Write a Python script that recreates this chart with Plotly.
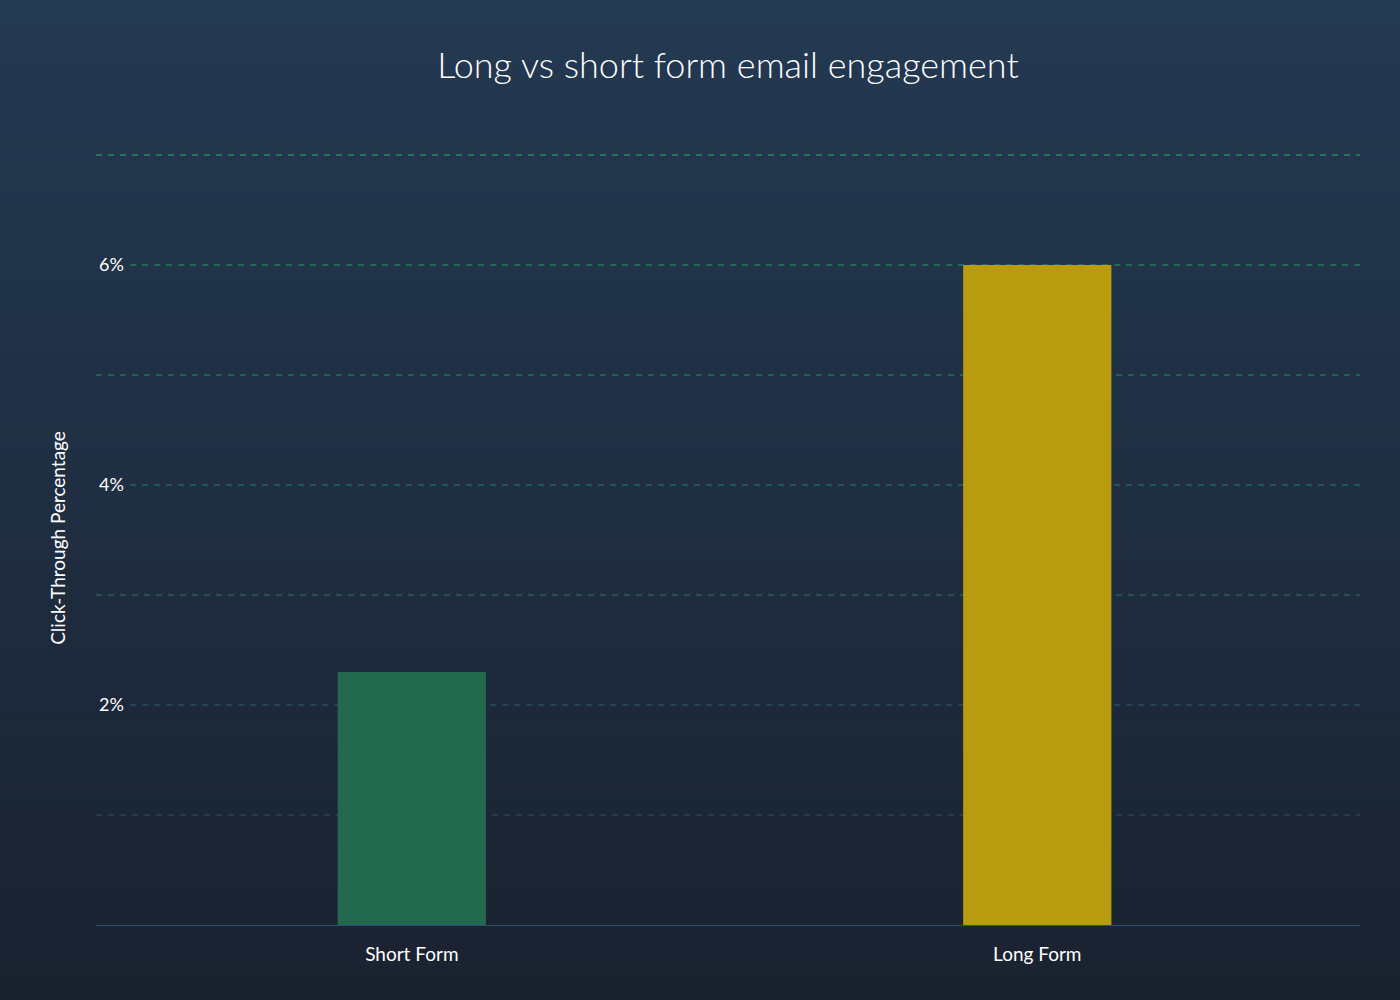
import plotly.graph_objects as go

categories = ["Short Form", "Long Form"]
ctr_values = [2.3, 6.0]
bar_colors = ["#22694d", "#b99b10"]
tick_vals = [2, 4, 6]
tick_text = ["2%", "4%", "6%"]
grid_levels = [1, 2, 3, 4, 5, 6, 7]

W, H = 1400, 1000
ML, MR, MT, MB = 96, 40, 151, 75
Y_MAX = 7 + 4 / 110

def lerp(c1, c2, t):
    a = [int(c1[i:i+2], 16) for i in (1, 3, 5)]
    b = [int(c2[i:i+2], 16) for i in (1, 3, 5)]
    return "#%02x%02x%02x" % tuple(round(a[k] + (b[k] - a[k]) * t) for k in range(3))

shapes = []
# background gradient in paper coordinates spanning the whole figure
plot_h = H - MT - MB
y_top = 1 + MT / plot_h
y_bot = -MB / plot_h
x_left = -ML / (W - ML - MR)
x_right = 1 + MR / (W - ML - MR)
N = 80
for i in range(N):
    t = i / (N - 1)
    y1 = y_top - (y_top - y_bot) * i / N
    y0 = y_top - (y_top - y_bot) * (i + 1) / N
    shapes.append(dict(type="rect", xref="paper", yref="paper", x0=x_left, x1=x_right,
                       y0=y0 - 0.002, y1=y1, fillcolor=lerp("#243a52", "#1a2230", t),
                       line=dict(width=0), layer="below"))

# dashed gridlines, fading from green at top to dim teal at bottom
for g in grid_levels:
    t = (7 - g) / 6
    col = lerp("#20b060", "#2e5466", t)
    x0 = 0.027 if g in tick_vals else 0
    shapes.append(dict(type="line", xref="paper", yref="y", x0=x0, x1=1, y0=g, y1=g,
                       line=dict(color=col, width=1, dash="6px,6px"), layer="below"))

fig = go.Figure()
fig.add_trace(go.Bar(
    x=[0, 1], y=ctr_values, width=0.237,
    marker=dict(color=bar_colors, line=dict(width=0)),
    hoverinfo="skip",
))

fig.update_layout(
    width=W, height=H,
    margin=dict(l=ML, r=MR, t=MT, b=MB),
    paper_bgcolor="#1f2c3e",
    plot_bgcolor="rgba(0,0,0,0)",
    showlegend=False,
    shapes=shapes,
    title=dict(text="Long vs short form email engagement", x=0.5, xref="paper",
               y=1 - 65 / H, yanchor="middle",
               font=dict(family="Lato", size=36, weight=300, color="#ffffff")),
    font=dict(family="Lato", color="#ffffff"),
)
fig.update_xaxes(
    range=[-0.505, 1.516], tickmode="array", tickvals=[0, 1], ticktext=categories,
    showgrid=False, zeroline=False, showline=True, linecolor="#2f4d70", linewidth=1,
    ticks="", ticklabelstandoff=12, tickfont=dict(size=19, color="#ffffff", family="Lato"),
)
fig.update_yaxes(
    range=[0, Y_MAX], tickmode="array", tickvals=tick_vals, ticktext=tick_text,
    showgrid=False, zeroline=False, showline=False, ticks="",
    ticklabelposition="inside", tickfont=dict(size=18, color="#ffffff", family="Lato"),
    title=dict(text="Click-Through Percentage", standoff=28,
               font=dict(size=19, color="#ffffff", family="Lato")),
)

fig.write_html("out.html")
